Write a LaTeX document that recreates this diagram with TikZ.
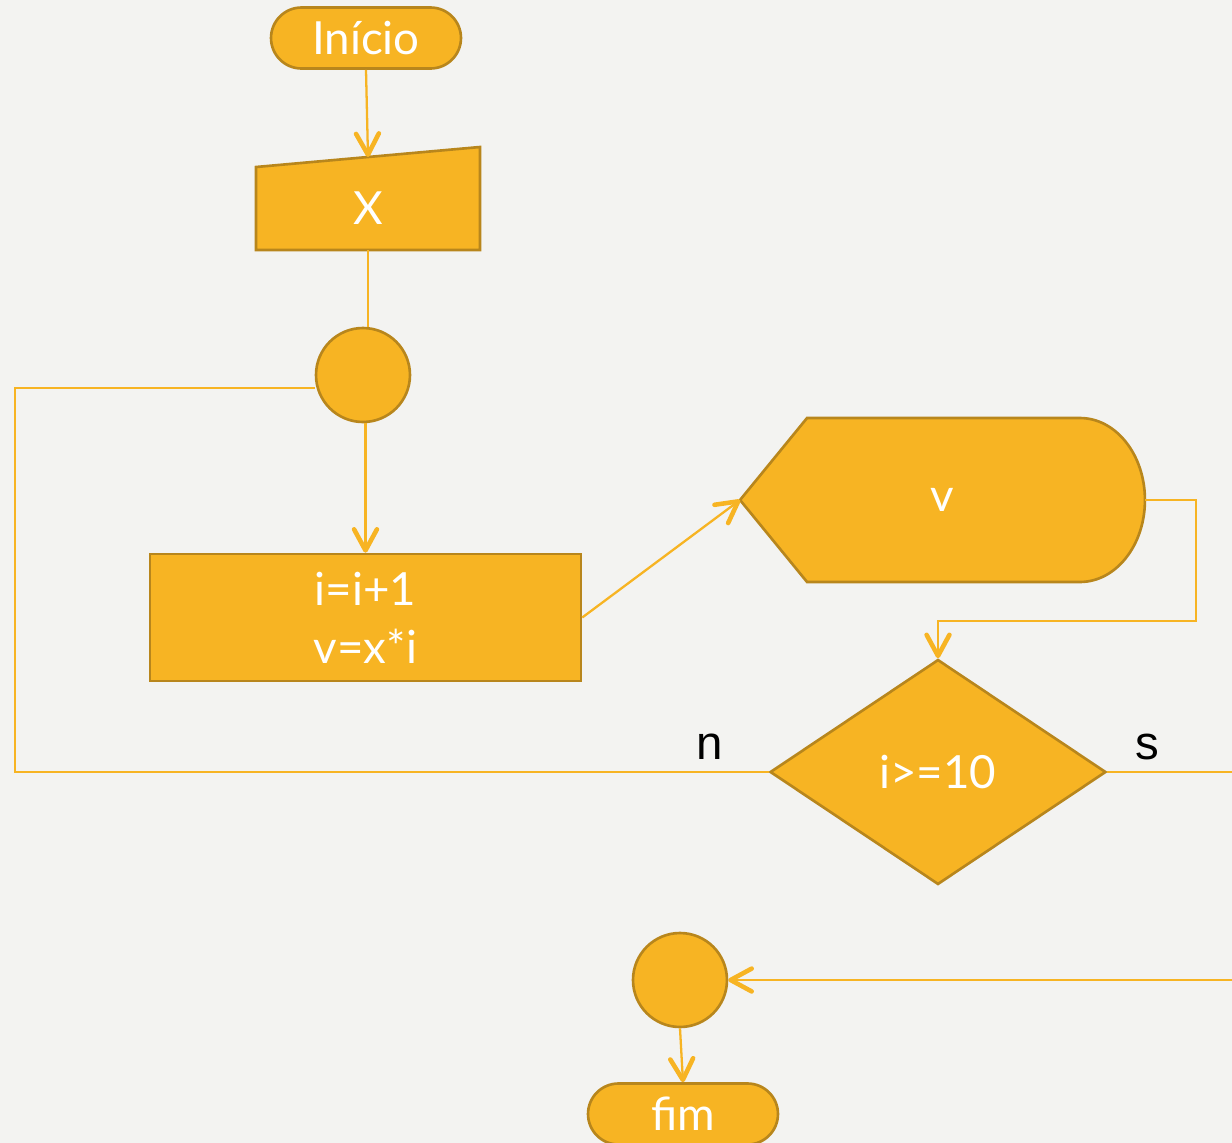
\documentclass[tikz,border=0pt]{standalone}
\usepackage{fontspec}
\setmainfont{Lato}
\newfontfamily\rotulofont{Liberation Sans}
\usetikzlibrary{arrows.meta, backgrounds, calc, shapes.geometric, shapes.misc}

\definecolor{fundo}{HTML}{F3F3F1}
\definecolor{caixa}{HTML}{F7B423}
\definecolor{borda}{HTML}{B8861C}
\definecolor{linha}{HTML}{F7B423}

\begin{document}
\begin{tikzpicture}[x=0.02cm, y=0.02cm,
	bloco/.style={fill=caixa, draw=borda, line width=1.5pt, text=white,
		font=\fontsize{26}{33}\selectfont, inner sep=0pt},
	moldura/.style={bloco, draw=none, fill=none, outer sep=0pt},
	terminal/.style={bloco, rounded rectangle, minimum width=3.8cm, minimum height=1.22cm},
	conector/.style={bloco, circle, minimum size=1.88cm},
	fio/.style={draw=linha, line width=1.3pt},
	seta/.style={fio, -{Straight Barb[round, length=12pt, width=13pt, line width=2.6pt]}},
	rotulo/.style={font=\rotulofont\fontsize{27}{30}\selectfont}]

	\useasboundingbox (0,0) rectangle (1232,-1143);
	\scoped[on background layer]\fill[fundo] (0,0) rectangle (1232,-1143);

	% --- blocks of the flowchart
	\node[terminal] (inicio) at (366,-38) {Início};
	\node[moldura, minimum width=4.48cm, minimum height=1.66cm]
		(entrada) at (368,-208.5) {X};
	\node[conector] (c1) at (363,-375) {};
	\node[bloco, align=center, minimum width=8.62cm, minimum height=2.54cm]
		(calc) at (365.5,-617.5) {i=i+1\\v=x*i};
	\node[moldura, minimum width=8.1cm, minimum height=3.28cm]
		(disp) at (942.5,-500) {v};
	\node[bloco, diamond, minimum width=6.72cm, minimum height=4.5cm]
		(dec) at (938,-772) {i>=10};
	\node[conector] (c2) at (680,-980) {};
	\node[terminal] (fim) at (683,-1114) {fim};

	% manual input (slanted top)
	\scoped[on background layer]\filldraw[fill=caixa, draw=borda, line width=1.5pt]
		(entrada.south west) -- (entrada.north west)
		-- ($(entrada.north east)+(0,20)$) -- (entrada.south east) -- cycle;

	% display
	\scoped[on background layer]\filldraw[fill=caixa, draw=borda, line width=1.5pt]
		(disp.west) -- ($(disp.north west)+(67,0)$) -- ($(disp.north east)+(-65,0)$)
		arc[start angle=90, end angle=-90, x radius=1.3cm, y radius=1.64cm]
		-- ($(disp.south west)+(67,0)$) -- cycle;

	% --- branch labels
	\node[rotulo] (ladon) at (710,-747) {n};
	\node[rotulo] (lados) at (1147,-747) {s};

	\coordinate (volta) at (15,-388);
	\coordinate (saida) at (1232,-772);
	\coordinate (fora) at (1232,-980);

	% --- connectors
	\draw[seta] (inicio.south) -- ($(entrada.north)+(0,10)$);
	\draw[fio] (entrada.south) -- (c1.north -| entrada.south);
	\draw[seta] (c1.south -| calc.north) -- (calc.north);
	\draw[seta] (calc.east) -- (disp.west);
	\draw[seta] (disp.east) -- ++(51,0) |- ($(dec.north)+(0,37)$) -- (dec.north);
	\draw[fio] (dec.west) -| (volta) -- (c1.west |- volta);
	\draw[fio] (dec.east) -- (saida);
	\draw[seta] (fora) -- (c2.east);
	\draw[seta] (c2.south) -- (fim.north);
\end{tikzpicture}
\end{document}
